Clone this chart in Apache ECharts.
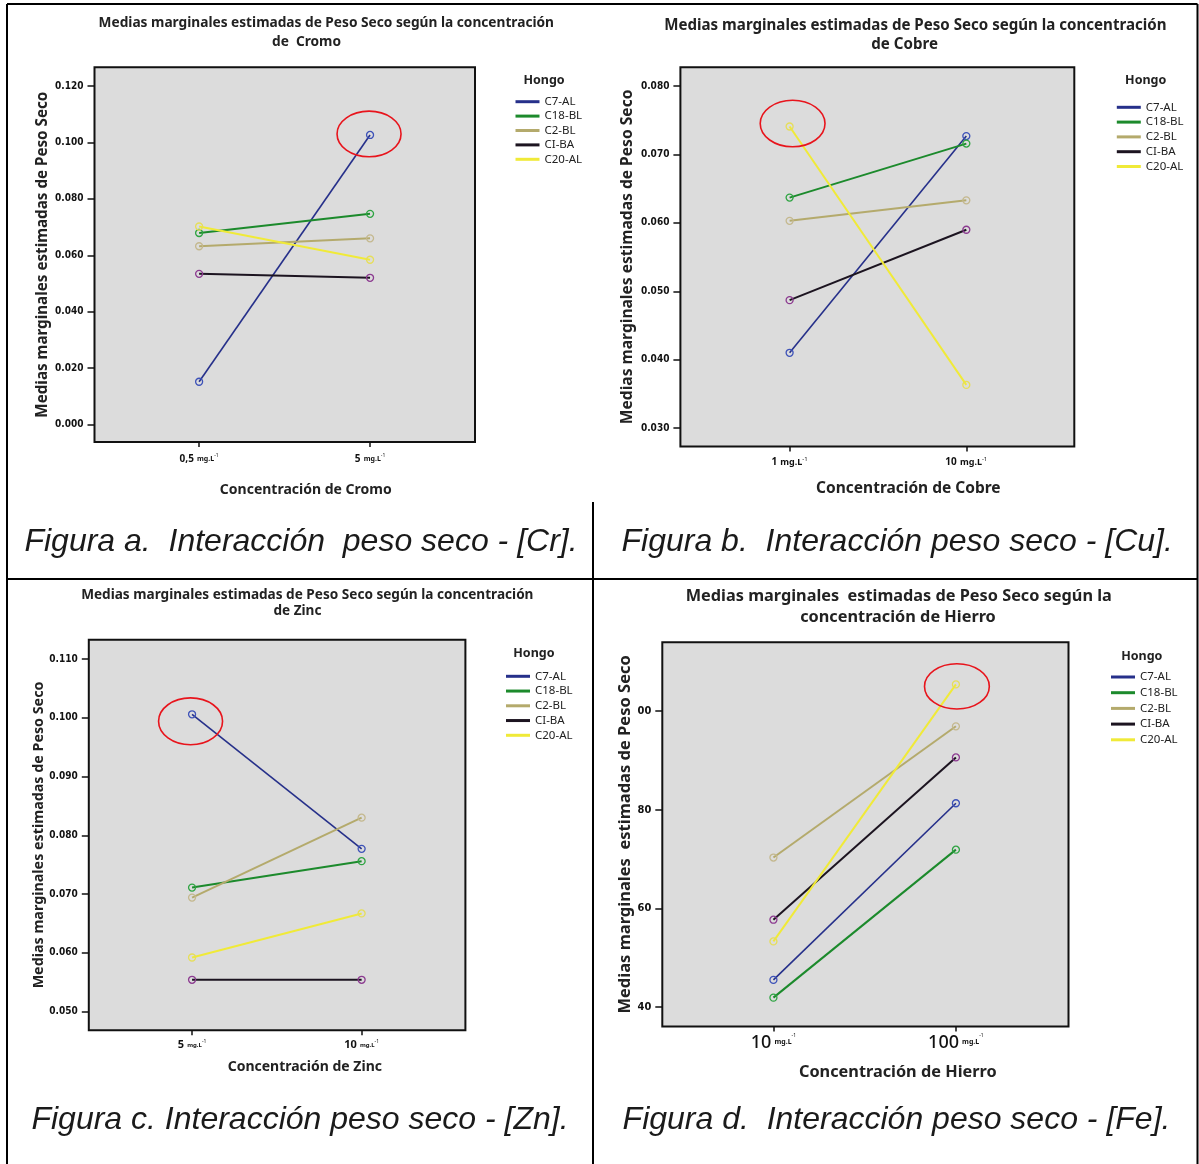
<!DOCTYPE html>
<html><head><meta charset="utf-8">
<script src="https://cdn.jsdelivr.net/npm/echarts@6/dist/echarts.min.js"></script>
<style>html,body{margin:0;padding:0;background:#fff}#c{width:1199px;height:1164px}</style>
</head><body><div id="c"></div><script>
// ---------- DATA ----------
const hongos = ['C7-AL', 'C18-BL', 'C2-BL', 'CI-BA', 'C20-AL'];

// Figura a: Cromo
const cromoLevels = ['0,5', '5'];
const cromoC7AL  = [0.0151, 0.1027];
const cromoC18BL = [0.0679, 0.0747];
const cromoC2BL  = [0.0632, 0.0660];
const cromoCIBA  = [0.0534, 0.0520];
const cromoC20AL = [0.0702, 0.0584];
const cromoTicks = [0, 0.02, 0.04, 0.06, 0.08, 0.10, 0.12];

// Figura b: Cobre
const cobreLevels = ['1', '10'];
const cobreC7AL  = [0.0410, 0.0727];
const cobreC18BL = [0.0637, 0.0716];
const cobreC2BL  = [0.0603, 0.0633];
const cobreCIBA  = [0.0487, 0.0590];
const cobreC20AL = [0.0741, 0.0363];
const cobreTicks = [0.03, 0.04, 0.05, 0.06, 0.07, 0.08];

// Figura c: Zinc
const zincLevels = ['5', '10'];
const zincC7AL  = [0.1006, 0.0777];
const zincC18BL = [0.0711, 0.0756];
const zincC2BL  = [0.0694, 0.0830];
const zincCIBA  = [0.0554, 0.0554];
const zincC20AL = [0.0592, 0.0667];
const zincTicks = [0.05, 0.06, 0.07, 0.08, 0.09, 0.10, 0.11];

// Figura d: Hierro
const hierroLevels = ['10', '100'];
const hierroC7AL  = [45.5, 81.3];
const hierroC18BL = [41.9, 71.9];
const hierroC2BL  = [70.3, 96.9];
const hierroCIBA  = [57.7, 90.6];
const hierroC20AL = [53.3, 105.4];
const hierroTicks = [40, 60, 80, 100];
const hierroTickLabels = ['40', '60', '80', '00'];

// ---------- STYLE / LAYOUT ----------
const FONT = "'Noto Sans', sans-serif";
const NARROW = "'Liberation Sans Narrow', 'DejaVu Sans Condensed', 'Noto Sans', sans-serif";
const lineColors = ['#26308a', '#1c8a2c', '#b4aa6c', '#1c1420', '#f0ea38'];
const markerColors = ['#3d52b8', '#2ea442', '#c4b88e', '#8c3a90', '#e6de5a'];
const lineWidths = [1.6, 2, 2, 2, 2];

const panels = [
  { levels: cromoLevels, values: [cromoC7AL, cromoC18BL, cromoC2BL, cromoCIBA, cromoC20AL],
    ticks: cromoTicks, fmt: v => v.toFixed(3), yLabelSize: 10,
    grid: {left: 94.5, top: 67.3, width: 380.5, height: 374.7},
    xr: [-0.612, 1.614], yr: [-0.00628, 0.12671],
    rich: {n: {fontSize: 10, fontWeight: 'bold'}, u: {fontSize: 7, fontWeight: 'bold'}, s: {fontSize: 5, verticalAlign: 'top'}},
    xLabelMargin: 11,
    xName: 'Concentración de Cromo', xNameSize: 14, xNameGap: 41, xNameShift: 21,
    yName: 'Medias marginales estimadas de Peso Seco', yNameSize: 15.2, yNameGap: 44,
    legend: {left: 515.5, top: 95.7, gap: 2.4, textGap: 11},
    hongo: [544, 80.6],
    titles: [[326.3, 23.3, 'Medias marginales estimadas de Peso Seco según la concentración'], [306.5, 41.8, 'de  Cromo']],
    titleSize: 13.7,
    caption: [301, 542, 'Figura a.  Interacción  peso seco - [Cr].'],
    mark: {s: 0, i: 1, dx: -1, dy: -1, rx: 32, ry: 22.8} },
  { levels: cobreLevels, values: [cobreC7AL, cobreC18BL, cobreC2BL, cobreCIBA, cobreC20AL],
    ticks: cobreTicks, fmt: v => v.toFixed(3), yLabelSize: 10,
    grid: {left: 680.4, top: 67.3, width: 393.9, height: 379.2},
    xr: [-0.618, 1.611], yr: [0.02729, 0.08276],
    rich: {n: {fontSize: 10, fontWeight: 'bold'}, u: {fontSize: 9, fontWeight: 'bold'}, s: {fontSize: 6, verticalAlign: 'top'}},
    xLabelMargin: 10,
    xName: 'Concentración de Cobre', xNameSize: 15.5, xNameGap: 34, xNameShift: 31,
    yName: 'Medias marginales estimadas de Peso Seco', yNameSize: 15.6, yNameGap: 45,
    legend: {left: 1116.8, top: 101.3, gap: 2.8, textGap: 13},
    hongo: [1145.7, 80.6],
    titles: [[915.4, 25.9, 'Medias marginales estimadas de Peso Seco según la concentración'], [904.6, 45.1, 'de Cobre']],
    titleSize: 15.1,
    caption: [897.2, 542, 'Figura b.  Interacción peso seco - [Cu].'],
    mark: {s: 4, i: 0, dx: 3, dy: -3, rx: 32.4, ry: 23.3} },
  { levels: zincLevels, values: [zincC7AL, zincC18BL, zincC2BL, zincCIBA, zincC20AL],
    ticks: zincTicks, fmt: v => v.toFixed(3), yLabelSize: 10,
    grid: {left: 88.8, top: 639.7, width: 376.6, height: 390.5},
    xr: [-0.609, 1.612], yr: [0.04682, 0.1133],
    rich: {n: {fontSize: 11, fontWeight: 'bold'}, u: {fontSize: 6, fontWeight: 'bold'}, s: {fontSize: 5, verticalAlign: 'top'}},
    xLabelMargin: 9,
    xName: 'Concentración de Zinc', xNameSize: 14, xNameGap: 30, xNameShift: 27.7,
    yName: 'Medias marginales estimadas de Peso Seco', yNameSize: 14.3, yNameGap: 41,
    legend: {left: 506, top: 670.3, gap: 2.75, textGap: 13},
    hongo: [533.9, 653.9],
    titles: [[307.3, 594.8, 'Medias marginales estimadas de Peso Seco según la concentración'], [297.4, 611.6, 'de Zinc']],
    titleSize: 13.6,
    caption: [300, 1119.9, 'Figura c. Interacción peso seco - [Zn].'],
    mark: {s: 0, i: 0, dx: -1.5, dy: 7, rx: 32, ry: 23.4} },
  { levels: hierroLevels, values: [hierroC7AL, hierroC18BL, hierroC2BL, hierroCIBA, hierroC20AL],
    ticks: hierroTicks, fmt: v => hierroTickLabels[hierroTicks.indexOf(v)], yLabelSize: 11,
    grid: {left: 662.3, top: 642.3, width: 406.2, height: 384.1},
    xr: [-0.609, 1.617], yr: [36.07, 113.93],
    rich: {n: {fontSize: 18, fontWeight: 500}, u: {fontSize: 7, fontWeight: 'bold'}, s: {fontSize: 5, verticalAlign: 'top'}},
    xLabelMargin: 7,
    xName: 'Concentración de Hierro', xNameSize: 16.3, xNameGap: 38, xNameShift: 32.4,
    yName: 'Medias marginales  estimadas de Peso Seco', yNameSize: 16.5, yNameGap: 29,
    legend: {left: 1111, top: 671, gap: 3.7, textGap: 15},
    hongo: [1141.8, 656.5],
    titles: [[898.8, 596.7, 'Medias marginales  estimadas de Peso Seco según la'], [898, 617.2, 'concentración de Hierro']],
    titleSize: 16.3,
    caption: [896.5, 1119.9, 'Figura d.  Interacción peso seco - [Fe].'],
    mark: {s: 4, i: 1, dx: 1, dy: 2, rx: 32.4, ry: 22.6} }
];

// ---------- OPTION ----------
const chart = echarts.init(document.getElementById('c'));
const grids = [], xAxes = [], yAxes = [], legends = [], series = [];

panels.forEach((p, k) => {
  grids.push(Object.assign({show: true, backgroundColor: '#dcdcdc', borderColor: '#111', borderWidth: 2, containLabel: false}, p.grid));
  xAxes.push({
    type: 'value', gridIndex: k, min: p.xr[0], max: p.xr[1], position: 'bottom',
    axisLine: {show: false, onZero: false}, splitLine: {show: false},
    axisTick: {show: true, customValues: [0, 1], length: 5, lineStyle: {color: '#111', width: 1.5}},
    axisLabel: {customValues: [0, 1], margin: p.xLabelMargin, color: '#111', fontFamily: FONT,
      formatter: v => '{n|' + p.levels[Math.round(v)] + '} {u|mg.L}{s|-1}', rich: p.rich},
    name: p.xName, nameLocation: 'middle', nameGap: p.xNameGap,
    nameTextStyle: {fontFamily: FONT, fontWeight: 'bold', fontSize: p.xNameSize, color: '#222', padding: [0, 0, 0, p.xNameShift * 2]}
  });
  yAxes.push({
    type: 'value', gridIndex: k, min: p.yr[0], max: p.yr[1], position: 'left',
    axisLine: {show: false, onZero: false}, splitLine: {show: false},
    axisTick: {show: true, customValues: p.ticks, length: 7, lineStyle: {color: '#111', width: 1.5}},
    axisLabel: {customValues: p.ticks, margin: 11, formatter: p.fmt, color: '#111', fontFamily: NARROW, fontWeight: 'bold', fontSize: p.yLabelSize},
    name: p.yName, nameLocation: 'middle', nameGap: p.yNameGap,
    nameTextStyle: {fontFamily: FONT, fontWeight: 'bold', fontSize: p.yNameSize, color: '#222'}
  });
  legends.push({
    orient: 'vertical', left: p.legend.left, top: p.legend.top, padding: 0,
    itemWidth: 24, itemHeight: 3, itemGap: p.legend.gap, itemTextGap: p.legend.textGap,
    icon: 'rect', selectedMode: false,
    textStyle: {fontFamily: FONT, fontSize: 11.5, lineHeight: 12, color: '#222'},
    data: hongos.map((h, i) => ({name: h, itemStyle: {color: lineColors[i], borderWidth: 0}}))
  });
  p.values.forEach((vals, i) => {
    series.push({
      type: 'line', name: hongos[i], xAxisIndex: k, yAxisIndex: k,
      data: vals.map((v, j) => [j, v]),
      symbol: 'circle', symbolSize: 7,
      lineStyle: {color: lineColors[i], width: lineWidths[i]},
      itemStyle: {color: 'rgba(0,0,0,0)', borderColor: markerColors[i], borderWidth: 1.3},
      emphasis: {disabled: true}, silent: true, animation: false
    });
  });
});

chart.setOption({
  animation: false,
  grid: grids, xAxis: xAxes, yAxis: yAxes, legend: legends, series: series
});

// ---------- DECORATION (text, borders, highlight ellipses) ----------
const gr = [];
const txt = (x, y, text, font, fill) => ({type: 'text', x: x, y: y, silent: true,
  style: {text: text, font: font, fill: fill || '#222', align: 'center', verticalAlign: 'middle'}});
const ln = (x1, y1, x2, y2) => ({type: 'line', silent: true, shape: {x1, y1, x2, y2}, style: {stroke: '#000', lineWidth: 2}});

panels.forEach((p, k) => {
  p.titles.forEach(t => gr.push(txt(t[0], t[1], t[2], 'bold ' + p.titleSize + 'px ' + FONT)));
  gr.push(txt(p.hongo[0], p.hongo[1], 'Hongo', 'bold 12.5px ' + FONT));
  gr.push(txt(p.caption[0], p.caption[1], p.caption[2], 'italic 32px "Liberation Sans", Arial, sans-serif', '#1a1a1a'));
  const m = p.mark;
  const px = chart.convertToPixel({xAxisIndex: k, yAxisIndex: k}, [m.i, p.values[m.s][m.i]]);
  gr.push({type: 'ellipse', silent: true, shape: {cx: px[0] + m.dx, cy: px[1] + m.dy, rx: m.rx, ry: m.ry},
    style: {fill: 'none', stroke: '#e8141c', lineWidth: 1.6}, z: 100});
});
// table borders
gr.push(ln(7, 4, 1197.5, 4));
gr.push(ln(7, 4, 7, 1164));
gr.push(ln(1197.5, 4, 1197.5, 1164));
gr.push(ln(7, 579, 1197.5, 579));
gr.push(ln(593, 502, 593, 1164));

chart.setOption({graphic: gr});
</script></body></html>
